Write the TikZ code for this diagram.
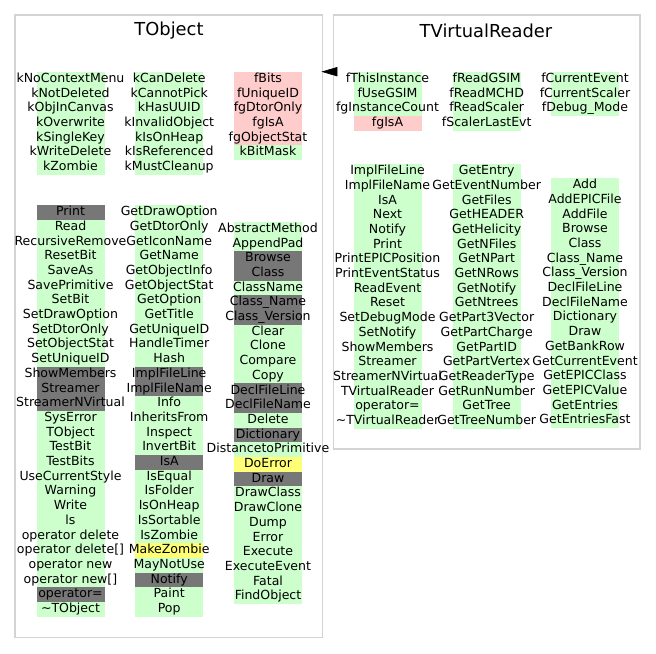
\documentclass[tikz,border=0pt]{standalone}
\usepackage{fontspec}
\setmainfont{DejaVu Sans}
\usetikzlibrary{fit,arrows.meta}
\definecolor{grn}{HTML}{CCFFCC}
\definecolor{red}{HTML}{FFCCCC}
\definecolor{gry}{HTML}{777777}
\definecolor{ylw}{HTML}{FFFF77}
\definecolor{frame}{HTML}{D3D3D3}
\pgfdeclarelayer{cells}
\pgfsetlayers{cells,main}

% one column of a class table: #1 prefix, #2 centre x, #3 top y, #4 text/colour list
\newcommand{\membercol}[4]{%
  \foreach \txt/\bg [count=\i from 0] in {#4} {
    \begin{pgfonlayer}{cells}
      \fill[\bg] ({#2-34},{#3+\i*14.7}) rectangle ++(68,14.7);
    \end{pgfonlayer}
    \node[member] (#1\i) at (#2,{#3+\i*14.7+7.35}) {\txt};
  }}

\begin{document}
\begin{tikzpicture}[x=0.75pt,y=-0.75pt]
          \tikzstyle{classbox} = [draw=frame, line width=1.1pt, rectangle, inner sep=0pt]
          \tikzstyle{title} = [inner sep=0pt, font=\fontsize{13.4}{15}\selectfont]
          \tikzstyle{member} = [inner sep=0pt, text height=7.1pt, text depth=2.1pt, font=\fontsize{9.4}{11}\selectfont]
          \tikzstyle{inherit} = [-{Triangle[length=12pt,width=7pt]}, black, shorten >=-1.5pt]
          \useasboundingbox (0,0) rectangle (656,653);

          \node[classbox, fit={(15,15) (322.7,637.7)}] (tobject) {};
          \node[classbox, fit={(333.3,15) (640,449)}] (tvreader) {};
          \node[title] (tobjtitle) at (169,31) {TObject};
          \node[title] (tvrtitle) at (486,31) {TVirtualReader};

          % TObject: enums and data members
          \membercol{objeA}{70.5}{71.7}{kNoContextMenu/grn, kNotDeleted/grn, kObjInCanvas/grn,
            kOverwrite/grn, kSingleKey/grn, kWriteDelete/grn, kZombie/grn}
          \membercol{objeB}{169.2}{71.7}{kCanDelete/grn, kCannotPick/grn, kHasUUID/grn,
            kInvalidObject/grn, kIsOnHeap/grn, kIsReferenced/grn, kMustCleanup/grn}
          \membercol{objeC}{268}{71.7}{fBits/red, fUniqueID/red, fgDtorOnly/red, fgIsA/red,
            fgObjectStat/red, kBitMask/grn}

          % TObject: methods
          \membercol{objmA}{70.5}{205}{Print/gry, Read/grn, RecursiveRemove/grn, ResetBit/grn,
            SaveAs/grn, SavePrimitive/grn, SetBit/grn, SetDrawOption/grn, SetDtorOnly/grn,
            SetObjectStat/grn, SetUniqueID/grn, ShowMembers/gry, Streamer/gry,
            StreamerNVirtual/gry, SysError/grn, TObject/grn, TestBit/grn, TestBits/grn,
            UseCurrentStyle/grn, Warning/grn, Write/grn, ls/grn, operator delete/grn,
            operator delete[]/grn, operator new/grn, operator new[]/grn, operator=/gry,
            \textasciitilde TObject/grn}
          \membercol{objmB}{169.2}{205}{GetDrawOption/grn, GetDtorOnly/grn, GetIconName/grn,
            GetName/grn, GetObjectInfo/grn, GetObjectStat/grn, GetOption/grn, GetTitle/grn,
            GetUniqueID/grn, HandleTimer/grn, Hash/grn, ImplFileLine/gry, ImplFileName/gry,
            Info/grn, InheritsFrom/grn, Inspect/grn, InvertBit/grn, IsA/gry, IsEqual/grn,
            IsFolder/grn, IsOnHeap/grn, IsSortable/grn, IsZombie/grn, MakeZombie/ylw,
            MayNotUse/grn, Notify/gry, Paint/grn, Pop/grn}
          \membercol{objmC}{268}{221.7}{AbstractMethod/grn, AppendPad/grn, Browse/gry, Class/gry,
            ClassName/grn, Class\_Name/gry, Class\_Version/gry, Clear/grn, Clone/grn,
            Compare/grn, Copy/grn, DeclFileLine/gry, DeclFileName/gry, Delete/grn,
            Dictionary/gry, DistancetoPrimitive/grn, DoError/ylw, Draw/gry, DrawClass/grn,
            DrawClone/grn, Dump/grn, Error/grn, Execute/grn, ExecuteEvent/grn, Fatal/grn,
            FindObject/grn}

          % TVirtualReader: data members
          \membercol{vrdA}{387.5}{71.7}{fThisInstance/grn, fUseGSIM/grn, fgInstanceCount/grn,
            fgIsA/red}
          \membercol{vrdB}{486.7}{71.7}{fReadGSIM/grn, fReadMCHD/grn, fReadScaler/grn,
            fScalerLastEvt/grn}
          \membercol{vrdC}{585}{71.7}{fCurrentEvent/grn, fCurrentScaler/grn, fDebug\_Mode/grn}

          % TVirtualReader: methods
          \membercol{vrmA}{387.5}{164}{ImplFileLine/grn, ImplFileName/grn, IsA/grn, Next/grn,
            Notify/grn, Print/grn, PrintEPICPosition/grn, PrintEventStatus/grn, ReadEvent/grn,
            Reset/grn, SetDebugMode/grn, SetNotify/grn, ShowMembers/grn, Streamer/grn,
            StreamerNVirtual/grn, TVirtualReader/grn, operator=/grn,
            \textasciitilde TVirtualReader/grn}
          \membercol{vrmB}{486.7}{164}{GetEntry/grn, GetEventNumber/grn, GetFiles/grn,
            GetHEADER/grn, GetHelicity/grn, GetNFiles/grn, GetNPart/grn, GetNRows/grn,
            GetNotify/grn, GetNtrees/grn, GetPart3Vector/grn, GetPartCharge/grn,
            GetPartID/grn, GetPartVertex/grn, GetReaderType/grn, GetRunNumber/grn,
            GetTree/grn, GetTreeNumber/grn}
          \membercol{vrmC}{585}{178}{Add/grn, AddEPICFile/grn, AddFile/grn, Browse/grn,
            Class/grn, Class\_Name/grn, Class\_Version/grn, DeclFileLine/grn,
            DeclFileName/grn, Dictionary/grn, Draw/grn, GetBankRow/grn, GetCurrentEvent/grn,
            GetEPICClass/grn, GetEPICValue/grn, GetEntries/grn, GetEntriesFast/grn}

          \coordinate (inh) at (tvreader.west |- 0,71.7);
          \draw[inherit] (inh) -- (inh -| tobject.east);
        \end{tikzpicture}
\end{document}
